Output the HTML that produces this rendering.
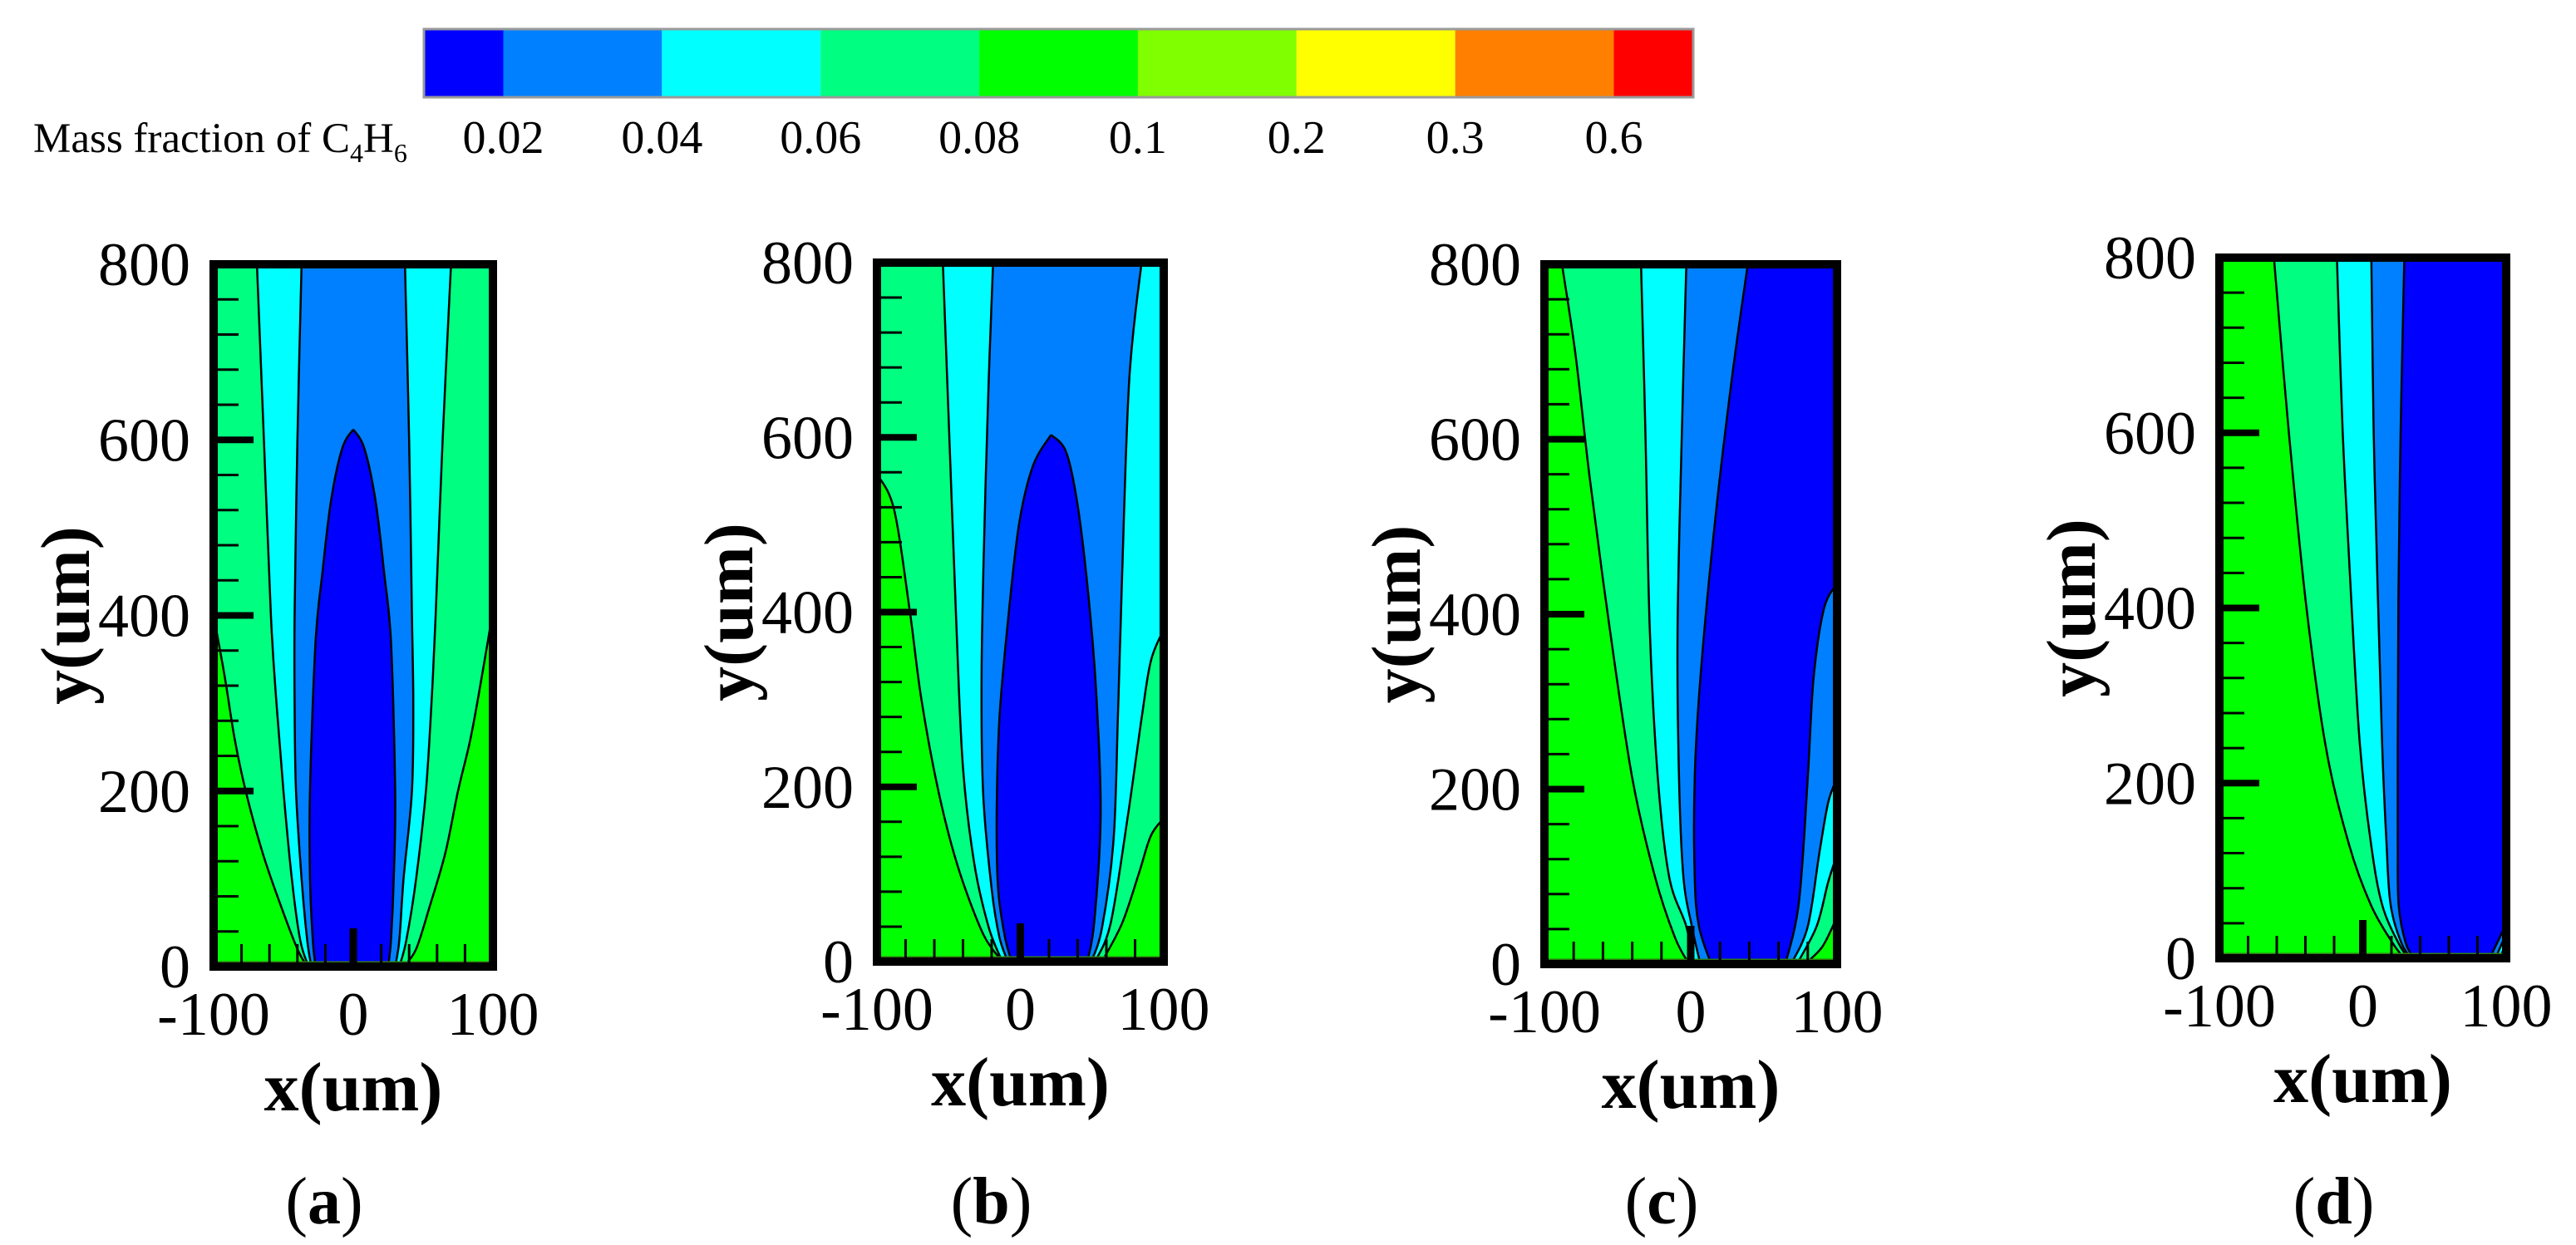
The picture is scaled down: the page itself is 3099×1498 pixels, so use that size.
<!DOCTYPE html>
<html>
<head>
<meta charset="utf-8">
<style>
  html,body{margin:0;padding:0;background:#fff;}
  svg{display:block;}
  text{font-family:"Liberation Serif", serif;fill:#000;}
</style>
</head>
<body>
<svg id="fig" width="3099" height="1498" viewBox="0 0 3099 1498" xmlns="http://www.w3.org/2000/svg">
  <g id="legend"></g>
  <g id="panels"></g>
</svg>
<script>
// ---------- legend data ----------
const legendLevels = ["0.02","0.04","0.06","0.08","0.1","0.2","0.3","0.6"];
const legendColors = ["#0000ff","#0080ff","#00ffff","#00ff80","#00ff00","#80ff00","#ffff00","#ff8000","#ff0000"];

// ---------- band colours (value < level) ----------
const bandColors = ["#00ff80","#00ffff","#0080ff","#0000ff"]; // <0.08, <0.06, <0.04, <0.02
const backgroundColor = "#00ff00";

// ---------- axis ticks ----------
const yTickLabels = [0,200,400,600,800];
const xTickLabels = [-100,0,100];
const yMinorTicks = [40,80,120,160,240,280,320,360,440,480,520,560,640,680,720,760];
const xMinorTicks = [-80,-60,-40,-20,20,40,60,80];

// ---------- panel (a) contour curves [x(um), y(um)] ----------
const aL1 = [[-100,400],[-92,330],[-85,260],[-77,200],[-65,130],[-52,70],[-40,20],[-33,0]];
const aR1 = [[36,0],[45,20],[55,70],[66,130],[75,200],[84,260],[92,330],[100,405]];
const aL2 = [[-69,800],[-64,600],[-59,400],[-55,300],[-50,200],[-44,100],[-38,30],[-32,0]];
const aR2 = [[33,0],[38,30],[45,100],[52,200],[56,300],[59,400],[64,600],[70,800]];
const aL3 = [[-37,800],[-40,600],[-42,400],[-42,300],[-41,200],[-37,100],[-33,30],[-30,0]];
const aR3 = [[30,0],[33,30],[36,100],[42,200],[43,300],[42,400],[40,600],[37,800]];
const aL4 = [[0,612],[-8,590],[-16,530],[-22,450],[-27,370],[-31,200],[-31,100],[-29,30],[-27,0]];
const aR4 = [[25,0],[27,30],[29,100],[30,200],[27,370],[22,450],[16,530],[8,590],[0,612]];

// ---------- panel (b) ----------
const bL1 = [[-100,558],[-88,517],[-77,400],[-69,300],[-57,194],[-44,111],[-28,39],[-18,11],[-11,0]];
const bR1 = [[57,0],[71,44],[82.5,100],[91,144],[100,164]];
const bL2 = [[-54,800],[-49.5,600],[-44.7,389],[-40,222],[-32,111],[-22,39],[-12.6,0]];
const bR2 = [[52,0],[63,44],[75,167],[84.5,278],[91,344],[100,380]];
const bL3 = [[-19,800],[-22,667],[-25,500],[-27,333],[-26,194],[-20,83],[-14.6,28],[-8.7,0]];
const bR3 = [[49.5,0],[57,39],[65,139],[68,278],[71,444],[76,667],[84.5,800]];
const bL4 = [[21.4,603],[8.7,567],[-1,500],[-8.7,389],[-14.6,278],[-16.5,167],[-15.5,83],[-10.7,28],[-6,0]];
const bR4 = [[46.6,0],[51.5,44],[56,167],[53,306],[47.6,417],[40,522],[32,583],[21.4,603]];

// ---------- panel (c) ----------
const cL1 = [[-88,800],[-78.7,696],[-69,555],[-55.4,384],[-40,213],[-24.4,99.5],[-10.9,31],[-1.2,0]];
const cR1 = [[78,0],[90,20],[100,54]];
const cL2 = [[-34,800],[-31,611],[-28,384],[-22.5,213],[-14.7,99.5],[-3,43],[1.7,0]];
const cR2 = [[72.5,0],[86,43],[94,94],[100,125]];
const cL3 = [[-3,800],[-6,611],[-9,384],[-8,213],[-5,99.5],[0.8,43],[6.6,0]];
const cR3 = [[68.6,0],[80,43],[88,128],[94,185],[100,213]];
const cL4 = [[39,800],[28,668],[16,497],[6.6,327],[2.7,213],[2.7,99.5],[5.6,43],[14,0]];
const cR4 = [[64.7,0],[74,71],[80,213],[84,327],[91,406],[100,435]];

// ---------- panel (d) ----------
const dL1 = [[-62,800],[-51.6,601],[-39.8,408],[-26,243],[-10,132],[5.6,61],[21,17],[29,0]];
const dR1 = [[98,0],[100,8]];
const dL2 = [[-18,800],[-14,601],[-8,408],[-2,243],[5.6,132],[13.5,61],[25,17],[32,0]];
const dR2 = [[95.5,0],[100,17]];
const dL3 = [[6,800],[7.6,601],[10.6,408],[13.5,243],[16.5,132],[19.4,61],[27,17],[34,0]];
const dR3 = [[92.5,0],[100,28]];
const dL4 = [[29,800],[26.4,601],[24.8,408],[24.4,243],[24.4,132],[25,61],[30,17],[36,0]];
const dR4 = [[88.5,0],[100,39]];

const panelCurves = [
  [[aL1,aR1],[aL2,aR2],[aL3,aR3],[aL4,aR4]],
  [[bL1,bR1],[bL2,bR2],[bL3,bR3],[bL4,bR4]],
  [[cL1,cR1],[cL2,cR2],[cL3,cR3],[cL4,cR4]],
  [[dL1,dR1],[dL2,dR2],[dL3,dR3],[dL4,dR4]]
];
const panelLetters = ["a","b","c","d"];

// ---------- layout (frame outer edges, px) ----------
const layout = [
  {l:252,r:598,t:313,b:1168},
  {l:1050,r:1405,t:311,b:1162},
  {l:1853,r:2215,t:313,b:1165},
  {l:2665,r:3020,t:305,b:1158}
];

const NS = "http://www.w3.org/2000/svg";
function mk(tag, attrs, parent){
  const e = document.createElementNS(NS, tag);
  for (const k in attrs) e.setAttribute(k, attrs[k]);
  if (parent) parent.appendChild(e);
  return e;
}

// ---------- legend ----------
const leg = document.getElementById("legend");
const barL = 510, barR = 2037, barT = 35, barB = 117;
const half = 95.5;
const full = (barR - barL - 2*half) / 7;
function segStart(i){ return i===0 ? barL : barL + half + (i-1)*full; }
function segEnd(i){ return i===8 ? barR : barL + half + i*full; }
legendColors.forEach((c,i)=>{
  const r = mk("rect",{x:segStart(i),y:barT,width:segEnd(i)-segStart(i),height:barB-barT,fill:c},leg);
  
  
});
const border = mk("rect",{x:barL,y:barT,width:barR-barL,height:barB-barT,fill:"none",stroke:"#9a9a9a","stroke-width":3},leg);


legendLevels.forEach((lab,i)=>{
  const t = mk("text",{x:segEnd(i),y:184,"font-size":56,"text-anchor":"middle"},leg);
  t.textContent = lab;
  
  
});
const title = mk("text",{x:40,y:183,"font-size":51},leg);


title.innerHTML = 'Mass fraction of C<tspan font-size="32" dy="12">4</tspan><tspan dy="-12">H</tspan><tspan font-size="32" dy="12">6</tspan>';

// ---------- panels ----------
const panelsG = document.getElementById("panels");

function smoothPath(pts){
  if (pts.length < 2) return "";
  let d = "M" + pts[0][0].toFixed(1) + "," + pts[0][1].toFixed(1);
  for (let i=0;i<pts.length-1;i++){
    const p0 = pts[i-1] || pts[i], p1 = pts[i], p2 = pts[i+1], p3 = pts[i+2] || p2;
    const c1x = p1[0] + (p2[0]-p0[0])/6, c1y = p1[1] + (p2[1]-p0[1])/6;
    const c2x = p2[0] - (p3[0]-p1[0])/6, c2y = p2[1] - (p3[1]-p1[1])/6;
    d += " C" + c1x.toFixed(1)+","+c1y.toFixed(1)+" "+c2x.toFixed(1)+","+c2y.toFixed(1)+" "+p2[0].toFixed(1)+","+p2[1].toFixed(1);
  }
  return d;
}

panelCurves.forEach((curves, pi)=>{
  const L = layout[pi];
  const x0 = L.l + 5, x1 = L.r - 5, y0 = L.b - 5, y1 = L.t + 5;
  const sx = v => x0 + (v + 100) / 200 * (x1 - x0);
  const sy = v => y0 - v / 800 * (y0 - y1);
  const g = mk("g",{},panelsG);
  
  
  const clipId = "clip" + pi;
  const cp = mk("clipPath",{id:clipId},g);
  mk("rect",{x:x0,y:y1,width:x1-x0,height:y0-y1},cp);
  const plot = mk("g",{"clip-path":"url(#"+clipId+")"},g);
  
  
  const bg = mk("rect",{x:x0,y:y1,width:x1-x0,height:y0-y1,fill:backgroundColor},plot);
  
  

  curves.forEach((pair, ci)=>{
    const left = pair[0].map(p=>[sx(p[0]), sy(p[1])]);
    const right = pair[1].map(p=>[sx(p[0]), sy(p[1])]);
    let d = "";
    const lf = pair[0][0];
    if (lf[0] <= -100 && lf[1] < 800) d += "M"+sx(-100)+","+sy(800)+" L"+left[0][0]+","+left[0][1];
    else d += "M"+left[0][0]+","+left[0][1];
    d += smoothPath(left).replace(/^M[^ C]+/, "");
    d += " L" + right[0][0] + "," + right[0][1];
    d += smoothPath(right).replace(/^M[^ C]+/, "");
    const rl = pair[1][pair[1].length-1];
    if (rl[0] >= 100 && rl[1] < 800) d += " L"+sx(100)+","+sy(800);
    d += " Z";
    const band = mk("path",{d:d,fill:bandColors[ci]},plot);
    
    
  });
  curves.forEach((pair)=>{
    pair.forEach(curve=>{
      const pts = curve.map(p=>[sx(p[0]), sy(p[1])]);
      const ln = mk("path",{d:smoothPath(pts),fill:"none",stroke:"#000","stroke-width":2.5},plot);
      
      
    });
  });
  const baseLine = mk("line",{x1:x0,x2:x1,y1:y0-5,y2:y0-5,stroke:"#2f7a10","stroke-width":3},plot);
  
  

  // ticks
  yMinorTicks.forEach(v=>{
    const t = mk("line",{x1:x0,x2:x0+30,y1:sy(v),y2:sy(v),stroke:"#000","stroke-width":3},g);
    
    
  });
  yTickLabels.forEach(v=>{
    if (v>0 && v<800){
      const t = mk("line",{x1:x0,x2:x0+48,y1:sy(v),y2:sy(v),stroke:"#000","stroke-width":8},g);
      
      
    }
    const lab = mk("text",{x:L.l-23,y:sy(v)+25,"font-size":74,"text-anchor":"end"},g);
    lab.textContent = v;
    
    
  });
  xMinorTicks.forEach(v=>{
    const t = mk("line",{x1:sx(v),x2:sx(v),y1:y0,y2:y0-27,stroke:"#000","stroke-width":3},g);
    
    
  });
  const mt = mk("line",{x1:sx(0),x2:sx(0),y1:y0,y2:y0-46,stroke:"#000","stroke-width":9},g);
  
  
  xTickLabels.forEach(v=>{
    const lab = mk("text",{x:sx(v),y:L.b+77,"font-size":74,"text-anchor":"middle"},g);
    lab.textContent = v;
    
    
  });
  // frame
  const fr = mk("rect",{x:x0,y:y1,width:x1-x0,height:y0-y1,fill:"none",stroke:"#000","stroke-width":10},g);
  
  
  // axis titles
  const xt = mk("text",{x:(L.l+L.r)/2,y:L.b+168,"font-size":84,"font-weight":"bold","text-anchor":"middle"},g);
  xt.textContent = "x(um)";
  
  
  const ycx = L.l - 145, ycy = (L.t + L.b)/2;
  const yt = mk("text",{x:ycx,y:ycy,"font-size":84,"font-weight":"bold","text-anchor":"middle",transform:"rotate(-90 "+ycx+" "+ycy+")"},g);
  yt.textContent = "y(um)";
  
  
  // panel letter
  const pl = mk("text",{x:(L.l+L.r)/2-35,y:1472,"font-size":80,"text-anchor":"middle"},g);
  pl.innerHTML = '(<tspan font-weight="bold">'+panelLetters[pi]+'</tspan>)';
  
  
});
</script>
</body>
</html>
